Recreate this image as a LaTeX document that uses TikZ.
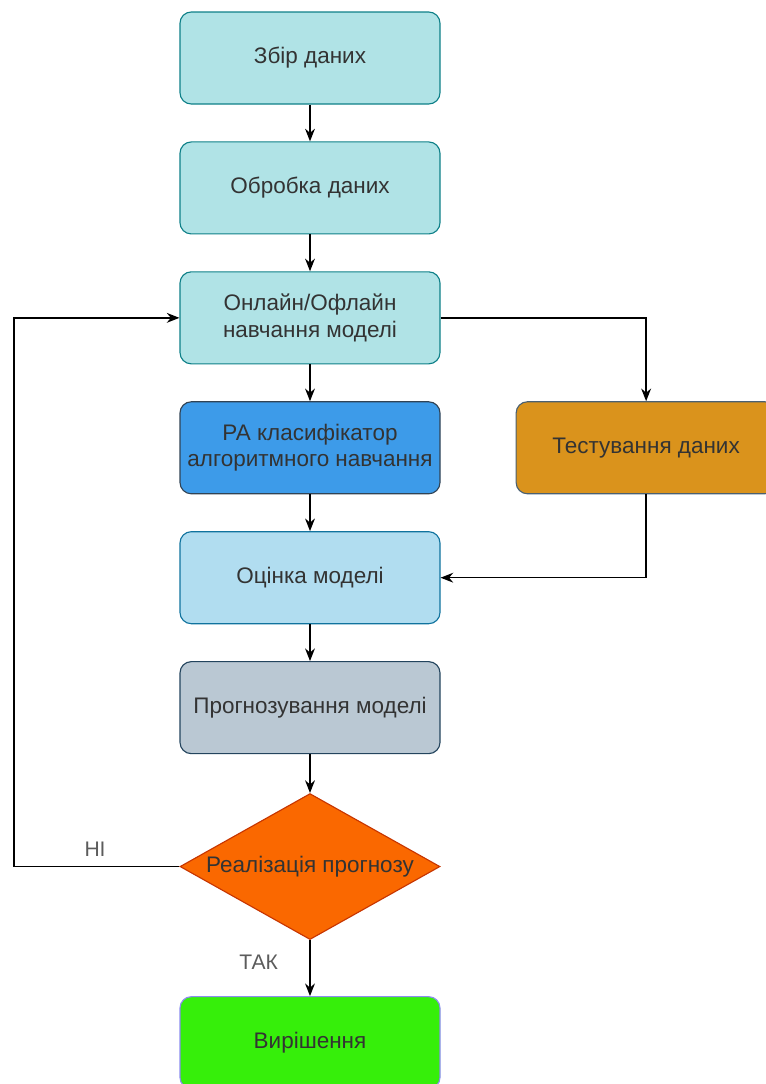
\documentclass[tikz,border=0pt]{standalone}
\usepackage{fontspec}
\setmainfont{Liberation Sans}
\usepackage{tikz}
\usetikzlibrary{
  arrows.meta, shapes.geometric,
  positioning, calc
}
\usepackage{xcolor}
\definecolor{tealfill}{HTML}{B0E3E6}
\definecolor{tealline}{HTML}{0E8088}
\definecolor{pafill}{HTML}{3D9BE9}
\definecolor{paline}{HTML}{314354}
\definecolor{testfill}{HTML}{DA931C}
\definecolor{testline}{HTML}{4A6072}
\definecolor{evalfill}{HTML}{B1DDF0}
\definecolor{evalline}{HTML}{10739E}
\definecolor{progfill}{HTML}{BAC8D3}
\definecolor{progline}{HTML}{23445D}
\definecolor{decfill}{HTML}{FA6800}
\definecolor{decline}{HTML}{C73500}
\definecolor{donefill}{HTML}{36EF0A}
\definecolor{doneline}{HTML}{8C8CF0}
\definecolor{txt}{HTML}{333333}
\tikzset{
  stage/.style={
    rectangle, rounded corners=8pt, draw=#1line, fill=#1fill, line width=0.8pt,
    minimum width=6.5cm, minimum height=2.3cm,
    align=center, text=txt, font=\fontsize{16}{19}\selectfont
  },
  decision/.style={
    diamond, draw=decline, fill=decfill, line width=0.8pt,
    minimum width=6.5cm, minimum height=3.65cm, aspect=1.78, inner sep=0pt,
    align=center, text=txt, font=\fontsize{16}{19}\selectfont
  },
  arrow/.style={-{Stealth[length=9pt,width=7pt]}, line width=1pt, draw=black},
  answer/.style={text=txt!80, font=\fontsize{15}{18}\selectfont}
}

\begin{document}
\begin{tikzpicture}[node distance=0.92cm and 1.875cm]
  \useasboundingbox (0,0) rectangle (19.125,-27.1);
  \node[stage=teal] (collect) at (7.75,-1.45) {Збір даних};
  \node[stage=teal, below=of collect] (process) {Обробка даних};
  \node[stage=teal, below=of process] (train) {Онлайн/Офлайн\\навчання моделі};
  \node[stage=pa, below=of train] (pa) {PA класифікатор\\алгоритмного навчання};
  \node[stage=test, right=of pa] (test) {Тестування даних};
  \node[stage=eval, below=of pa] (eval) {Оцінка моделі};
  \node[stage=prog, below=of eval] (predict) {Прогнозування моделі};
  \node[decision, below=0.97cm of predict] (real) {Реалізація прогнозу};
  \node[stage=done, below=1.4cm of real] (solve) {Вирішення};
  \coordinate (loop) at (0.35,0);

  \draw[arrow] (collect) -- (process);
  \draw[arrow] (process) -- (train);
  \draw[arrow] (train) -- (pa);
  \draw[arrow] (pa) -- (eval);
  \draw[arrow] (eval) -- (predict);
  \draw[arrow] (predict) -- (real);
  \draw[arrow] (train.east) -| (test.north);
  \draw[arrow] (test.south) |- (eval.east);
  \draw[arrow] (real.west) -- (real.west -| loop)
    node[answer, pos=0.51, above=3pt]{НІ} |- (train.west);
  \draw[arrow] (real) -- node[answer, left=19pt, pos=0.4]{ТАК} (solve);
\end{tikzpicture}
\end{document}
